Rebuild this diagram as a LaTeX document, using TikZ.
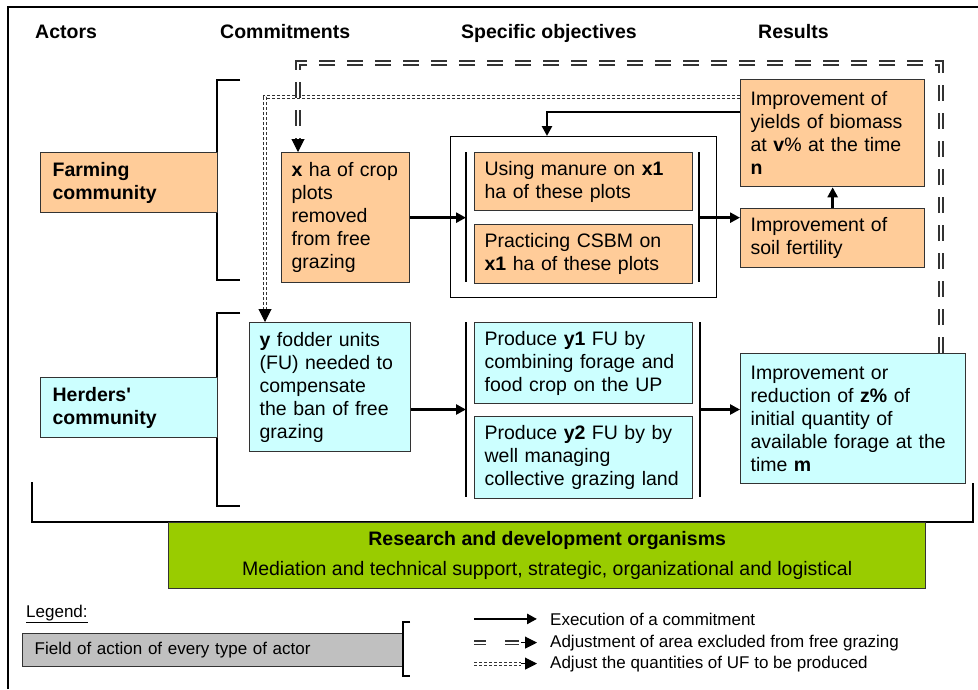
\documentclass[tikz,border=0pt]{standalone}
\usepackage{fontspec}
\setmainfont{Liberation Sans}
\usetikzlibrary{arrows.meta,calc}
\definecolor{orng}{HTML}{FFCC99}
\definecolor{cyn}{HTML}{CCFFFF}
\definecolor{grn}{HTML}{99CC00}
\definecolor{lgray}{HTML}{C0C0C0}
\definecolor{bord}{HTML}{333333}
\newcommand\bodyfont{\fontsize{19.5}{23}\selectfont}
\newcommand\legfont{\fontsize{17}{20}\selectfont}
\begin{document}
\begin{tikzpicture}[x=1pt,y=-1pt,
 box/.style={draw=bord, line width=1.3pt, anchor=north west, inner xsep=10pt, inner ysep=0pt, align=left, font=\bodyfont},
 obox/.style={box, fill=orng},
 cbox/.style={box, fill=cyn},
 hdr/.style={anchor=base west, inner sep=0pt, font=\bodyfont\bfseries},
 bar/.style={line width=1.6pt},
 arr/.style={line width=2.6pt, -{Triangle[length=10pt,width=10pt]}},
 tip/.style={line width=1pt, -{Triangle[length=13pt,width=13pt]}},
 dbldash/.style={draw=black!80, double=white, double distance=2.6pt, line width=1.6pt, dash pattern=on 16pt off 12pt},
 dbldot/.style={draw=black!80, double=white, double distance=2pt, line width=1.4pt, dash pattern=on 3pt off 2pt},
 legtxt/.style={anchor=base west, inner sep=0pt, font=\legfont},
]
\useasboundingbox (0,0) rectangle (978,689);
% outer frame
\draw[line width=1.3pt] (8,689) -- (8,7) -- (978,7);

% headers
\node[hdr] (hA) at (35,38) {Actors};
\node[hdr] (hC) at (220,38) {Commitments};
\node[hdr] (hS) at (461,38) {Specific objectives};
\node[hdr] (hR) at (758,38) {Results};

% brackets
\draw[bar] (240,80) -- (217,80) -- (217,280) -- (240,280);
\draw[bar] (240,313) -- (217,313) -- (217,506) -- (240,506);
\draw[bar] (32,482) -- (32,522) -- (973,522) -- (973,483);

% actors
\node[obox, minimum width=177pt, text width=153pt, inner xsep=12pt, minimum height=60pt, font=\bodyfont\bfseries] (farm) at (40,152) {Farming\\community};
\node[cbox, minimum width=177pt, text width=153pt, inner xsep=12pt, minimum height=60pt, font=\bodyfont\bfseries] (herd) at (40,377) {Herders\textquotesingle\\community};

% commitments
\node[obox, minimum width=128pt, text width=108pt, minimum height=130pt] (xbox) at (281,152) {\textbf{x} ha of crop\\plots\\removed\\from free\\grazing};
\node[cbox, minimum width=161pt, text width=141pt, minimum height=129pt] (ybox) at (249,322) {\textbf{y} fodder units\\(FU) needed to\\compensate\\the ban of free\\grazing};

% specific objectives
\node[draw=black, line width=1.3pt, fill=white, anchor=north west, minimum width=266pt, minimum height=161pt, inner sep=0pt] (spec) at (450,136) {};
\node[obox, minimum width=218pt, text width=198pt, minimum height=58pt] (man) at (474,152) {Using manure on \textbf{x1}\\ha of these plots};
\node[obox, minimum width=218pt, text width=198pt, minimum height=59pt] (csbm) at (474,224) {Practicing CSBM on\\\textbf{x1} ha of these plots};
\node[cbox, minimum width=218pt, text width=198pt, minimum height=81pt] (y1) at (474,322) {Produce \textbf{y1} FU by\\combining forage and\\food crop on the UP};
\node[cbox, minimum width=218pt, text width=198pt, minimum height=82pt] (y2) at (474,416) {Produce \textbf{y2} FU by by\\well managing\\collective grazing land};

\coordinate (bLt) at (466,152); \coordinate (bLb) at (466,282);
\coordinate (bRt) at (699,152); \coordinate (bRb) at (699,282);
\coordinate (hLt) at (466,322); \coordinate (hLb) at (466,497);
\coordinate (hRt) at (700,322); \coordinate (hRb) at (700,497);
\draw[bar] (bLt) -- (bLb);
\draw[bar] (bRt) -- (bRb);
\draw[bar] (hLt) -- (hLb);
\draw[bar] (hRt) -- (hRb);

% results
\node[obox, minimum width=184pt, text width=164pt, minimum height=107pt] (yield) at (740,79) {Improvement of\\yields of biomass\\at \textbf{v}\% at the time\\\textbf{n}};
\node[obox, minimum width=184pt, text width=164pt, minimum height=59pt] (soil) at (740,208) {Improvement of\\soil fertility};
\node[cbox, minimum width=225pt, text width=205pt, minimum height=130pt] (zbox) at (740,353) {Improvement or\\reduction of \textbf{z\%} of\\initial quantity of\\available forage at the\\time \textbf{m}};

% research box
\node[draw=bord, line width=1.3pt, fill=grn, anchor=north west, minimum width=757pt, minimum height=66pt, inner sep=0pt, align=center, font=\fontsize{19.5}{30}\selectfont] (rd) at (168,522) {\textbf{Research and development organisms}\\Mediation and technical support, strategic, organizational and logistical};

% solid connectors
\draw[arr] (xbox.east) -- (xbox.east -| bLt);
\coordinate (fR) at (bRt |- xbox.east);
\draw[arr] (fR) -- (fR -| soil.west);
\draw[arr] (soil.north) -- (yield.south);
\draw[arr] ($(yield.north west)+(0,33)$) -| ($(spec.north west)+(97,0)$);
\coordinate (hL) at ($(hLt)!0.5!(hLb)$);
\coordinate (hR) at ($(hRt)!0.5!(hRb)$);
\draw[arr] (hL -| ybox.east) -- (hL);
\draw[arr] (hR) -- (hR -| zbox.west);

% dotted double connector
\coordinate (dtL) at (265,97);
\coordinate (dyT) at (ybox.north -| dtL);
\coordinate (dyS) at (yield.west |- dtL);
\draw[dbldot] (dyS) -- (dtL) -- ($(dyT)+(0,-13)$);
\draw[tip] ($(dyT)+(0,-13)$) -- (dyT);

% dashed double connector
\coordinate (dR) at (941,63);
\coordinate (dL) at (298,63);
\coordinate (dzB) at (zbox.north -| dR);
\coordinate (dxT) at (xbox.north -| dL);
\draw[dbldash] (dzB) -- (dR) -- (dL) -- ($(dxT)+(0,-13)$);
\draw[tip] ($(dxT)+(0,-13)$) -- (dxT);

% legend
\node[legtxt] (leg) at (26,617) {\underline{Legend:}};
\node[draw=bord, line width=1.3pt, fill=lgray, anchor=north west, minimum width=380pt, text width=356pt, inner xsep=12pt, minimum height=33pt, inner ysep=0pt, align=left, font=\legfont] (legbox) at (22,633) {Field of action of every type of actor};
\draw[bar] (410,622) -- (403,622) -- (403,676) -- (410,676);
\node[legtxt] (l1) at (550,625) {Execution of a commitment};
\node[legtxt] (l2) at (550,647) {Adjustment of area excluded from free grazing};
\node[legtxt] (l3) at (550,668) {Adjust the quantities of UF to be produced};
\draw[arr] ($(l1.west)+(-76,0)$) -- ($(l1.west)+(-13,0)$);
\draw[dbldash, line width=1.3pt, double distance=2.2pt, dash pattern=on 12pt off 19pt on 14pt off 40pt] ($(l2.west)+(-76,0)$) -- ($(l2.west)+(-31,0)$);
\draw[tip, -{Triangle[length=12pt,width=12pt]}] ($(l2.west)+(-29,0)$) -- ($(l2.west)+(-13,0)$);
\draw[dbldot, line width=1.1pt, double distance=1.8pt] ($(l3.west)+(-76,0)$) -- ($(l3.west)+(-29,0)$);
\draw[tip, -{Triangle[length=12pt,width=12pt]}] ($(l3.west)+(-29,0)$) -- ($(l3.west)+(-13,0)$);
\end{tikzpicture}
\end{document}
